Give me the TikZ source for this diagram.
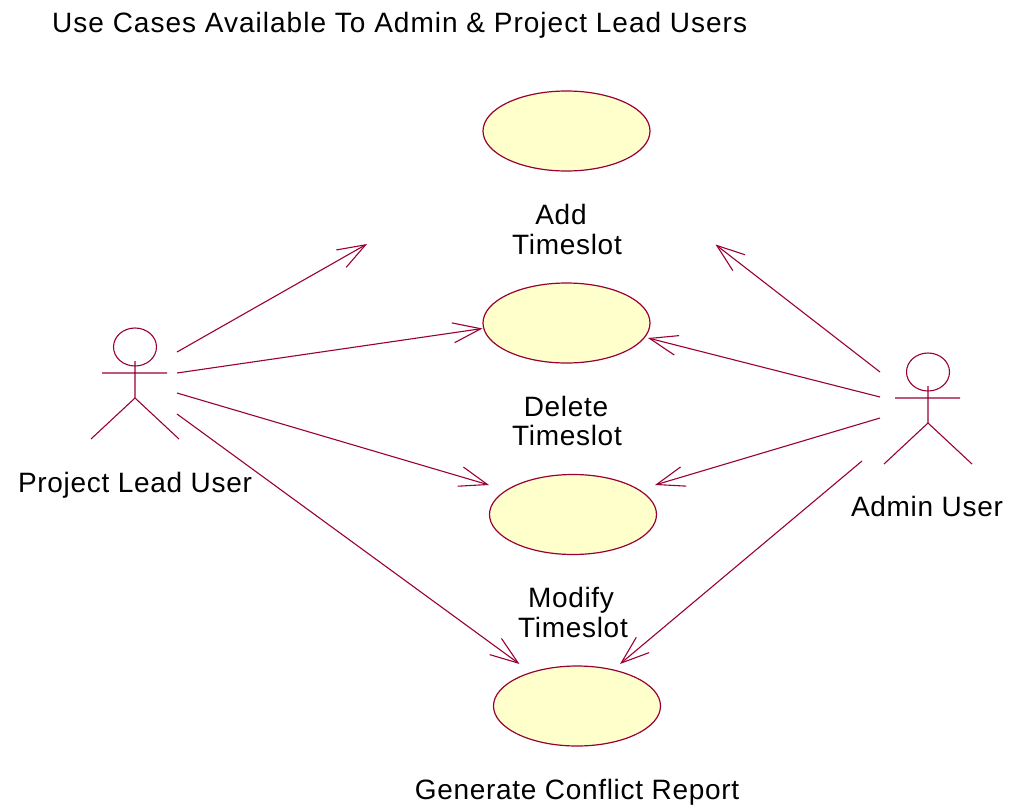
\documentclass[tikz,border=0pt]{standalone}
\usepackage{fontspec}
\setmainfont{Liberation Sans}[LetterSpace=2.5]
\usetikzlibrary{shapes.geometric,arrows.meta}
\definecolor{umlline}{RGB}{153,0,51}
\definecolor{umlfill}{RGB}{255,255,204}
\tikzset{
  usecase/.style={ellipse, draw=umlline, fill=umlfill, line width=1.2pt,
    minimum width=167pt, minimum height=80pt, inner sep=0pt},
  lbl/.style={anchor=base, inner sep=0pt, font=\fontsize{28}{30}\selectfont},
  assoc/.style={draw=umlline, line width=1.1pt,
    -{Straight Barb[length=28pt,width=20pt,line width=1.1pt]}},
  actor/.pic={
    \draw[umlline, line width=1.1pt]
      (0,0) ellipse [x radius=21.5, y radius=19]
      (-33,26) -- (32,26)
      (0,14) -- (0,51)
      (-44,92) -- (0,51) -- (44,92);
  }
}
\begin{document}
\begin{tikzpicture}[x=1pt,y=-1pt]
\useasboundingbox (0,0) rectangle (1012,809);

% title
\node[lbl, anchor=base west, font=\fontsize{28}{30}\selectfont\addfontfeature{LetterSpace=3.6}]
  (title) at (52,32) {Use Cases Available To Admin \& Project Lead Users};

% use cases
\node[usecase] (add) at (566.5,131) {};
\node[usecase] (del) at (566.5,323) {};
\node[usecase] (mod) at (573,514.5) {};
\node[usecase] (gen) at (577,706) {};

\node[lbl] (addA) at (561,224) {Add};
\node[lbl] (addB) at (567,254) {Timeslot};
\node[lbl] (delA) at (566,416) {Delete};
\node[lbl] (delB) at (567,445) {Timeslot};
\node[lbl] (modA) at (571,607) {Modify};
\node[lbl] (modB) at (573,637) {Timeslot};
\node[lbl] (genA) at (577,799) {Generate Conflict Report};

% actors
\pic at (135,347) {actor};
\node[lbl] (plname) at (135,492) {Project Lead User};
\pic at (928,372) {actor};
\node[lbl] (admname) at (927,516) {Admin User};

% connector ends at the actors
\coordinate (pl-a) at (177,352);
\coordinate (pl-b) at (177,373);
\coordinate (pl-c) at (177,393);
\coordinate (pl-d) at (177,414);
\coordinate (adm-a) at (880,372);
\coordinate (adm-b) at (880,397);
\coordinate (adm-c) at (880,418);
\coordinate (adm-d) at (862,461);

% connector ends at the use cases
\coordinate (add-l) at (367,244);
\coordinate (add-r) at (715.5,244.5);
\coordinate (del-l) at (482.5,328.5);
\coordinate (del-r) at (648,338);
\coordinate (mod-l) at (489,485);
\coordinate (mod-r) at (655,485);
\coordinate (gen-l) at (519.5,664);
\coordinate (gen-r) at (620,664);

% associations
\draw[assoc] (pl-a) -- (add-l);
\draw[assoc] (pl-b) -- (del-l);
\draw[assoc] (pl-c) -- (mod-l);
\draw[assoc] (pl-d) -- (gen-l);
\draw[assoc] (adm-a) -- (add-r);
\draw[assoc] (adm-b) -- (del-r);
\draw[assoc] (adm-c) -- (mod-r);
\draw[assoc] (adm-d) -- (gen-r);
\end{tikzpicture}
\end{document}
